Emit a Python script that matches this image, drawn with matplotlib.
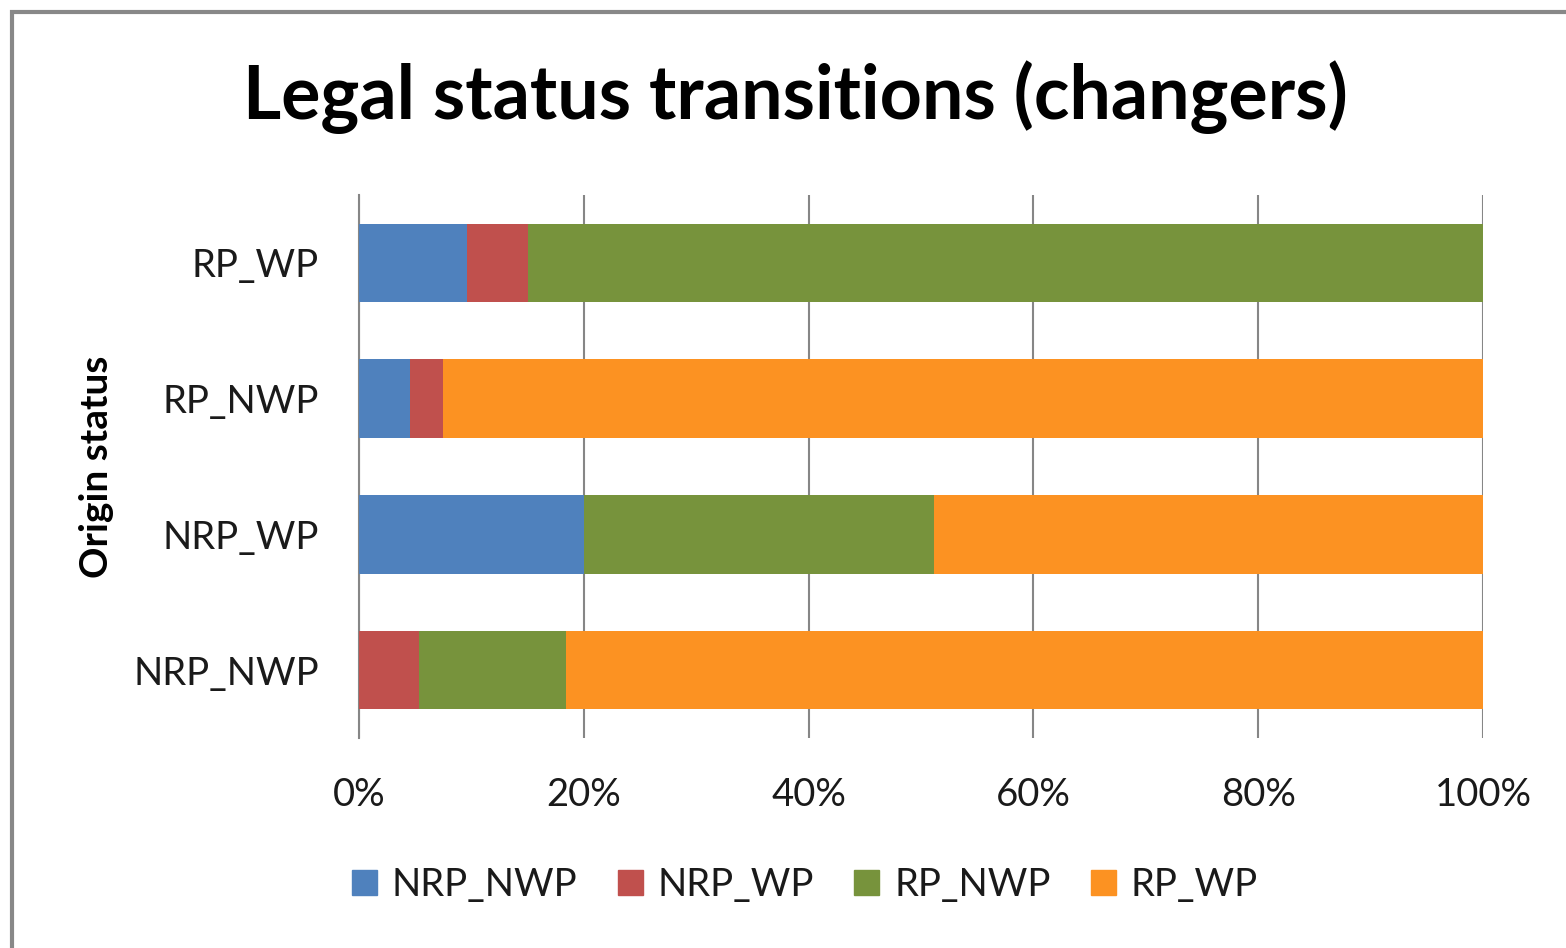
import matplotlib.pyplot as plt
import matplotlib.patches as mpatches
import numpy as np

categories = ['NRP_NWP', 'NRP_WP', 'RP_NWP', 'RP_WP']
series = ['NRP_NWP', 'NRP_WP', 'RP_NWP', 'RP_WP']
# shares (%) per origin status, same order as categories
nrp_nwp = [0.0, 20.0, 4.5, 9.6]
nrp_wp = [5.3, 0.0, 3.0, 5.4]
rp_nwp = [13.1, 31.2, 0.0, 85.0]
rp_wp = [81.6, 48.8, 92.5, 0.0]
colors = ['#4F81BD', '#C0504D', '#77933C', '#FC9222']

plt.rcParams['font.family'] = ['Lato', 'DejaVu Sans']

fig = plt.figure(figsize=(15.66, 9.48), dpi=100)
ax = fig.add_axes([359 / 1566, 1 - 738 / 948, (1483 - 359) / 1566, (738 - 195) / 948])

y = np.arange(len(categories))
left = np.zeros(len(categories))
for vals, name, c in zip([nrp_nwp, nrp_wp, rp_nwp, rp_wp], series, colors):
    ax.barh(y, vals, left=left, height=0.58, color=c, label=name, zorder=3)
    left += np.array(vals)

ax.set_xlim(0, 100)
ax.set_ylim(-0.5, 3.5)
ax.set_xticks(np.arange(0, 101, 20))
ax.set_xticklabels(['{}%'.format(v) for v in range(0, 101, 20)])
ax.set_yticks(y)
ax.set_yticklabels(categories)
ax.tick_params(axis='both', length=0, labelsize=27.5, labelcolor='#1a1a1a')
ax.tick_params(axis='x', pad=28)
ax.tick_params(axis='y', pad=29)
ax.grid(axis='x', color='#868686', linewidth=1.5, zorder=0)
for s in ['top', 'right', 'bottom']:
    ax.spines[s].set_visible(False)
ax.spines['left'].set_color('#868686')
ax.spines['left'].set_linewidth(1.5)

ax.set_ylabel('Origin status', fontsize=28, fontweight='bold', labelpad=14)
fig.text(795 / 1566, 1 - 97 / 948, 'Legal status transitions (changers)',
         fontsize=53, fontweight='bold', ha='center', va='center')

handles = [mpatches.Patch(color=c, label=n) for c, n in zip(colors, series)]
fig.legend(handles=handles, loc='center', bbox_to_anchor=(805 / 1566, 1 - 885 / 948),
           ncol=4, frameon=False, fontsize=27.5, handlelength=0.65, handleheight=0.65,
           handletextpad=0.4, columnspacing=1.05, labelcolor='#1a1a1a')

# outer chart border (only top/left edge visible in the crop)
fig.patches.append(mpatches.Rectangle((12 / 1566, -0.1), 1.2, 1 - 12 / 948 + 0.1,
                                      transform=fig.transFigure, fill=False,
                                      edgecolor='#888888', linewidth=3))

fig.savefig('out.png', dpi=100)
